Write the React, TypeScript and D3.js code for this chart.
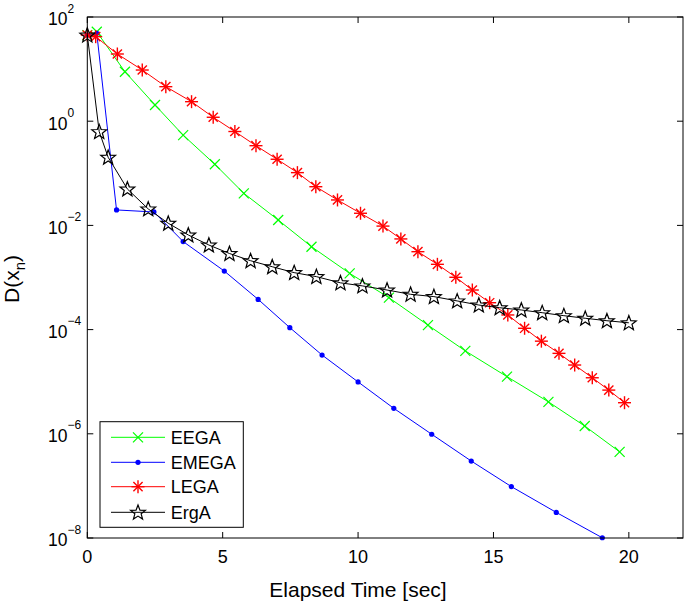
import React from "react";
import * as d3 from "d3";

const seriesNames = ["EEGA", "EMEGA", "LEGA", "ErgA"];
const seriesColors = ["#00ff00", "#0000ff", "#ff0000", "#000000"];

const eegaX = [0, 0.35, 1.39, 2.5, 3.54, 4.71, 5.78, 7.05, 8.28, 9.69, 11.14, 12.58, 13.96, 15.5, 17.03, 18.37, 19.66];
const eegaY = [45, 52, 8.9, 2.05, 0.54, 0.149, 0.0413, 0.0127, 0.0039, 0.0012, 4.1e-4, 1.22e-4, 3.9e-5, 1.25e-5, 4.1e-6, 1.41e-6, 4.5e-7];

const emegaX = [0, 0.35, 1.08, 2.46, 3.54, 5.06, 6.31, 7.48, 8.67, 10.0, 11.32, 12.72, 14.18, 15.66, 17.32, 19.02];
const emegaY = [45, 48.6, 0.0198, 0.0181, 0.0049, 0.00133, 3.8e-4, 1.09e-4, 3.25e-5, 9.9e-6, 3.08e-6, 9.8e-7, 3.0e-7, 9.7e-8, 3.1e-8, 1.01e-8];

const legaX = [0, 0.31, 1.11, 2.03, 2.9, 3.85, 4.65, 5.45, 6.23, 7.01, 7.76, 8.44, 9.24, 10.09, 10.92, 11.58, 12.21, 12.93, 13.61, 14.22, 14.86, 15.53, 16.15, 16.77, 17.42, 18.0, 18.65, 19.26, 19.84];
const legaY = [45, 41.9, 19.5, 9.6, 4.6, 2.37, 1.19, 0.634, 0.339, 0.186, 0.103, 0.0553, 0.0308, 0.0171, 0.0097, 0.0055, 0.00313, 0.00179, 0.00101, 5.75e-4, 3.28e-4, 1.91e-4, 1.06e-4, 6.0e-5, 3.5e-5, 2.09e-5, 1.19e-5, 6.9e-6, 3.95e-6];

const ergaX = [0, 0.44, 0.77, 1.48, 2.25, 2.99, 3.73, 4.49, 5.25, 6.03, 6.83, 7.64, 8.46, 9.35, 10.16, 11.07, 11.94, 12.8, 13.66, 14.46, 15.23, 16.03, 16.8, 17.6, 18.39, 19.19, 20.0];
const ergaY = [45, 0.63, 0.203, 0.05, 0.0207, 0.011, 0.00655, 0.0042, 0.00289, 0.0021, 0.00161, 0.00124, 0.00104, 7.9e-4, 6.9e-4, 5.75e-4, 4.76e-4, 4.3e-4, 3.55e-4, 2.96e-4, 2.63e-4, 2.38e-4, 2.11e-4, 1.85e-4, 1.65e-4, 1.48e-4, 1.35e-4];

const xTicks = [0, 5, 10, 15, 20];
const yTickExps = [2, 0, -2, -4, -6, -8];

const L = 87.3, R = 683, T = 17, B = 538;
const FONT = "'Liberation Sans', Arial, Helvetica, sans-serif";

function Marker({ kind, x, y, color }: { kind: number; x: number; y: number; color: string }) {
  if (kind === 0) {
    const s = 5;
    return (
      <g stroke={color} strokeWidth={1.2}>
        <line x1={x - s} y1={y - s} x2={x + s} y2={y + s} />
        <line x1={x - s} y1={y + s} x2={x + s} y2={y - s} />
      </g>
    );
  }
  if (kind === 1) return <circle cx={x} cy={y} r={2.6} fill={color} />;
  if (kind === 2) {
    const s = 6.5, d = s * 0.7071;
    return (
      <g stroke={color} strokeWidth={1.4}>
        <line x1={x - s} y1={y} x2={x + s} y2={y} />
        <line x1={x} y1={y - s} x2={x} y2={y + s} />
        <line x1={x - d} y1={y - d} x2={x + d} y2={y + d} />
        <line x1={x - d} y1={y + d} x2={x + d} y2={y - d} />
      </g>
    );
  }
  const pts: string[] = [];
  for (let i = 0; i < 10; i++) {
    const r = i % 2 === 0 ? 7.8 : 3.3;
    const a = -Math.PI / 2 + (i * Math.PI) / 5;
    pts.push(`${x + r * Math.cos(a)},${y + 0.5 + r * Math.sin(a)}`);
  }
  return <polygon points={pts.join(" ")} fill="none" stroke={color} strokeWidth={1.2} strokeLinejoin="miter" />;
}

export default function App() {
  const x = d3.scaleLinear().domain([0, 22]).range([L, R]);
  const y = d3.scaleLog().domain([1e-8, 1e2]).range([B, T]);
  const data = [
    [eegaX, eegaY],
    [emegaX, emegaY],
    [legaX, legaY],
    [ergaX, ergaY],
  ];
  const line = d3
    .line<[number, number]>()
    .x((d) => x(d[0]))
    .y((d) => y(d[1]));

  const legX = 100, legY = 421.7, legW = 143.3, legH = 105.6;
  const legRows = [437.3, 462.3, 486.7, 512.3];

  return (
    <svg width={685} height={610} style={{ position: "absolute", left: 0, top: 0, background: "#fff" }} fontFamily={FONT}>
      <rect x={0} y={0} width={685} height={610} fill="#fff" />
      {data.map((s, i) => {
        const pts = s[0].map((v, j) => [v, s[1][j]] as [number, number]);
        return (
          <g key={seriesNames[i]}>
            <path d={line(pts) || ""} fill="none" stroke={seriesColors[i]} strokeWidth={1} />
            {pts.map((p, j) => (
              <Marker key={j} kind={i} x={x(p[0])} y={y(p[1])} color={seriesColors[i]} />
            ))}
          </g>
        );
      })}
      <rect x={L} y={T} width={R - L} height={B - T} fill="none" stroke="#000" strokeWidth={1} />
      {xTicks.map((t) => (
        <g key={"x" + t}>
          <line x1={x(t)} x2={x(t)} y1={B} y2={B - 6} stroke="#000" />
          <line x1={x(t)} x2={x(t)} y1={T} y2={T + 6} stroke="#000" />
          <text x={x(t)} y={563} fontSize={18} textAnchor="middle" fill="#000">
            {t}
          </text>
        </g>
      ))}
      {yTickExps.map((e) => {
        const yy = y(Math.pow(10, e));
        return (
          <g key={"y" + e}>
            <line x1={L} x2={L + 6} y1={yy} y2={yy} stroke="#000" />
            <line x1={R} x2={R - 6} y1={yy} y2={yy} stroke="#000" />
            <text x={48} y={yy + 8.4} fontSize={17.5} fill="#000">
              10
            </text>
            <text x={67.5} y={yy - 4.5} fontSize={12} fill="#000">
              {e < 0 ? "\u2212" + Math.abs(e) : String(e)}
            </text>
          </g>
        );
      })}
      <text x={358} y={597} fontSize={21} textAnchor="middle" fill="#000">
        Elapsed Time [sec]
      </text>
      <text transform="translate(19,279) rotate(-90)" fontSize={21} textAnchor="middle" fill="#000">
        D(x<tspan fontSize={15} dy={6}>n</tspan>
        <tspan dy={-6}>)</tspan>
      </text>
      <rect x={legX} y={legY} width={legW} height={legH} fill="#fff" stroke="#000" strokeWidth={1} />
      {seriesNames.map((n, i) => (
        <g key={"leg" + n}>
          <line x1={111} x2={165} y1={legRows[i]} y2={legRows[i]} stroke={seriesColors[i]} strokeWidth={1} />
          <Marker kind={i} x={138} y={legRows[i]} color={seriesColors[i]} />
          <text x={170.7} y={legRows[i] + 6.5} fontSize={18} fill="#000">
            {n}
          </text>
        </g>
      ))}
    </svg>
  );
}
